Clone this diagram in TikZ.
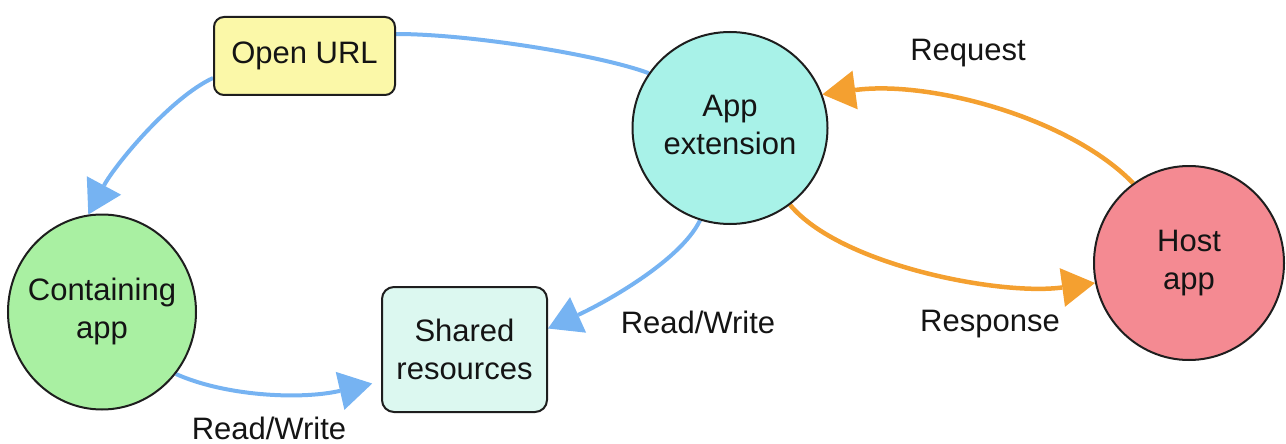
\documentclass[tikz,border=0pt]{standalone}
\usepackage{fontspec}
\setmainfont{Liberation Sans}
\usetikzlibrary{arrows.meta,shapes.geometric,backgrounds}
\definecolor{urlfill}{HTML}{FBF8A8}
\definecolor{extfill}{HTML}{A8F2E8}
\definecolor{hostfill}{HTML}{F48A92}
\definecolor{contfill}{HTML}{A9F0A2}
\definecolor{sharedfill}{HTML}{DCF8F0}
\definecolor{linkblue}{HTML}{76B3F2}
\definecolor{linkorange}{HTML}{F4A030}
\definecolor{outline}{HTML}{1E1E1E}
\definecolor{txt}{HTML}{141414}
\newcommand\centertext[1]{\makebox[0pt]{\begin{tabular}{@{}c@{}}#1\end{tabular}}}
\begin{document}
\begin{tikzpicture}[x=1pt,y=-1pt,
  txtfont/.style={font=\fontsize{31}{38}\selectfont, text=txt},
  lbl/.style={txtfont, inner sep=0pt},
  boxnode/.style={txtfont, draw=outline, line width=2pt, rounded corners=10pt, align=center, inner sep=0pt},
  circnode/.style={txtfont, ellipse, draw=outline, line width=2pt, inner sep=0pt},
  blueline/.style={draw=linkblue, line width=4pt},
  bluearr/.style={blueline, -{Triangle[length=33pt,width=39pt,line width=0pt]}},
  orangearr/.style={draw=linkorange, line width=4.5pt, -{Triangle[length=33pt,width=39pt,line width=0pt]}}
]
\useasboundingbox (0,0) rectangle (1286,444);

\node[boxnode, fill=urlfill, minimum width=181pt, minimum height=78pt] (url) at (304.5,56) {Open URL};
\node[boxnode, fill=sharedfill, minimum width=165pt, minimum height=125pt, rounded corners=12pt] (shared) at (464.5,349.5) {Shared\\resources};
\node[circnode, fill=extfill, minimum width=195pt, minimum height=192pt] (ext) at (730,128) {\centertext{App\\extension}};
\node[circnode, fill=hostfill, minimum width=190pt, minimum height=194pt] (host) at (1189,263) {\centertext{Host\\app}};
\node[circnode, fill=contfill, minimum width=188pt, minimum height=195pt] (cont) at (102,312) {\centertext{Containing\\app}};

\node[lbl] (req) at (968,53) {Request};
\node[lbl] (resp) at (990,324) {Response};
\node[lbl] (rw1) at (698,322) {Read/Write};
\node[lbl] (rw2) at (269,428) {Read/Write};

\begin{scope}[on background layer]
  \draw[blueline] (ext.146) .. controls (600,55) and (470,34) .. ([yshift=22pt]url.east);
  \draw[bluearr] ([yshift=-22pt]url.west) .. controls (170,98) and (115,165) .. (cont.98);
  \draw[bluearr] (ext.-108) .. controls (680,262) and (600,305) .. ([yshift=21pt]shared.east);
  \draw[bluearr, shorten >=9pt] (cont.-40) .. controls (225,396) and (300,400) .. ([yshift=-32pt]shared.west);
  \draw[orangearr] (host.125) .. controls (1070,118) and (930,80) .. (ext.20);
  \draw[orangearr] (ext.-52) .. controls (840,265) and (1000,296) .. (host.192);
\end{scope}
\end{tikzpicture}
\end{document}
